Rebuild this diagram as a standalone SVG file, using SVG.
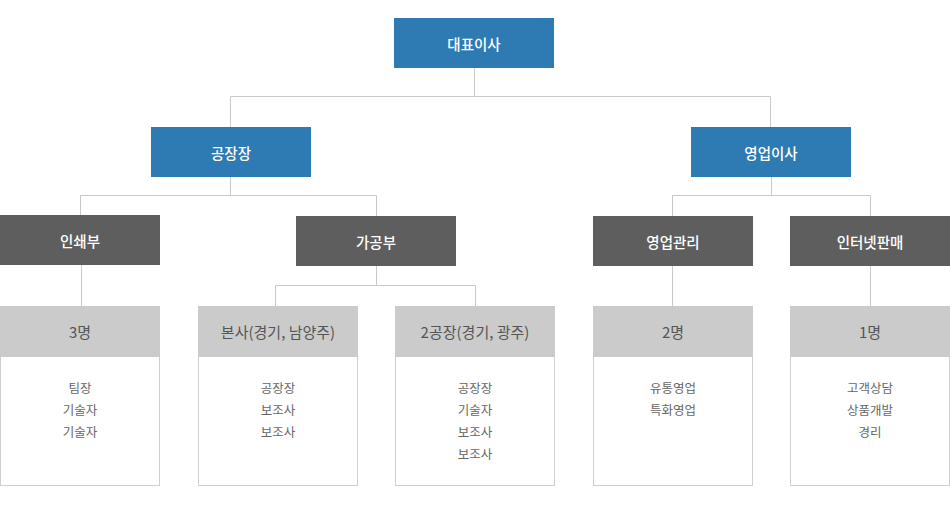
<svg xmlns="http://www.w3.org/2000/svg" width="950" height="505" viewBox="0 0 950 505">
<style>
text{font-family:"Noto Sans CJK KR","Noto Sans",sans-serif;text-anchor:middle;dominant-baseline:central}
.blue{fill:#2e7bb3}
.dark{fill:#5e5e5e}
.hd{fill:#cbcbcb}
.body{fill:#fff;stroke:#cfcfcf;stroke-width:1}
.t{fill:#fff;font-size:14.5px;font-weight:500}
.th{fill:#555;font-size:15px}
.tb{fill:#666;font-size:12.5px}
.ln{fill:none;stroke:#c9c9c9;stroke-width:1}
</style>
<rect width="950" height="505" fill="#fff"/>
<g id="connectors">
<path class="ln" d="M474.5 68V96.5M230.5 96.5H770.5M230.5 96.5V127M770.5 96.5V127"/>
<path class="ln" d="M230.5 177V195.5M80.5 195.5H376.5M80.5 195.5V215M376.5 195.5V216"/>
<path class="ln" d="M771.5 177V195.5M672.5 195.5H870.5M672.5 195.5V216M870.5 195.5V216"/>
<path class="ln" d="M81.5 265V306M672.5 266V306M870.5 266V306"/>
<path class="ln" d="M376.5 266V285.5M275.5 285.5H475.5M275.5 285.5V306M475.5 285.5V306"/>
</g>
<g id="n-ceo"><rect class="blue" x="394" y="18" width="160" height="50"/><text class="t" x="474" y="43">대표이사</text></g>
<g id="n-factory"><rect class="blue" x="151" y="127" width="160" height="50"/><text class="t" x="231" y="152">공장장</text></g>
<g id="n-sales"><rect class="blue" x="691" y="127" width="160" height="50"/><text class="t" x="771" y="152">영업이사</text></g>
<g id="n-print"><rect class="dark" x="0" y="215" width="160" height="50"/><text class="t" x="80" y="240">인쇄부</text></g>
<g id="n-proc"><rect class="dark" x="296" y="216" width="160" height="50"/><text class="t" x="376" y="241">가공부</text></g>
<g id="n-salesmgmt"><rect class="dark" x="593" y="216" width="160" height="50"/><text class="t" x="673" y="241">영업관리</text></g>
<g id="n-online"><rect class="dark" x="790" y="216" width="160" height="50"/><text class="t" x="870" y="241">인터넷판매</text></g>
<g id="n-print-staff">
<rect class="body" x="0.5" y="356.5" width="159" height="129"/>
<rect class="hd" x="0" y="306" width="160" height="51"/>
<text class="th" x="80" y="331">3명</text>
<text class="tb" x="80" y="387">팀장</text><text class="tb" x="80" y="409">기술자</text><text class="tb" x="80" y="431">기술자</text>
</g>
<g id="n-hq">
<rect class="body" x="198.5" y="356.5" width="159" height="129"/>
<rect class="hd" x="198" y="306" width="160" height="51"/>
<text class="th" x="278" y="331">본사(경기, 남양주)</text>
<text class="tb" x="278" y="387">공장장</text><text class="tb" x="278" y="409">보조사</text><text class="tb" x="278" y="431">보조사</text>
</g>
<g id="n-plant2">
<rect class="body" x="395.5" y="356.5" width="159" height="129"/>
<rect class="hd" x="395" y="306" width="160" height="51"/>
<text class="th" x="475" y="331">2공장(경기, 광주)</text>
<text class="tb" x="475" y="387">공장장</text><text class="tb" x="475" y="409">기술자</text><text class="tb" x="475" y="431">보조사</text><text class="tb" x="475" y="453">보조사</text>
</g>
<g id="n-sales-staff">
<rect class="body" x="593.5" y="356.5" width="159" height="129"/>
<rect class="hd" x="593" y="306" width="160" height="51"/>
<text class="th" x="673" y="331">2명</text>
<text class="tb" x="673" y="387">유통영업</text><text class="tb" x="673" y="409">특화영업</text>
</g>
<g id="n-online-staff">
<rect class="body" x="790.5" y="356.5" width="159" height="129"/>
<rect class="hd" x="790" y="306" width="160" height="51"/>
<text class="th" x="870" y="331">1명</text>
<text class="tb" x="870" y="387">고객상담</text><text class="tb" x="870" y="409">상품개발</text><text class="tb" x="870" y="431">경리</text>
</g>
</svg>
